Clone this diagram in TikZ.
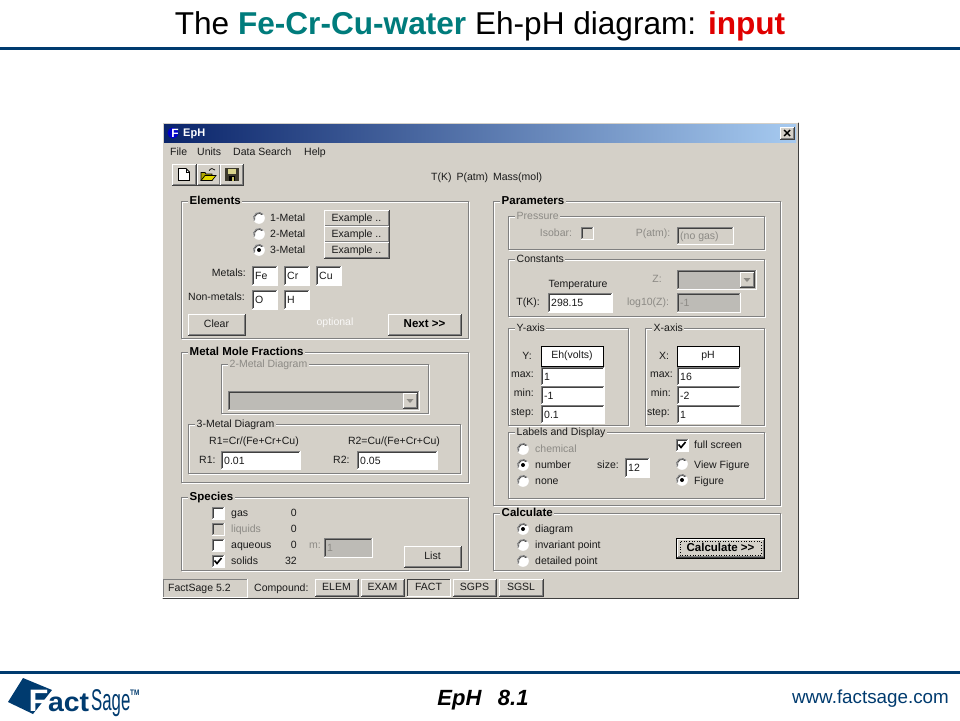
\documentclass[tikz,border=0pt]{standalone}
\usepackage{fontspec}
\setmainfont{Liberation Sans}
\definecolor{bgc}{HTML}{D4D0C8}
\definecolor{navyline}{HTML}{003B6F}
\definecolor{tealc}{HTML}{007C7C}
\definecolor{redc}{HTML}{E00000}
\definecolor{dis}{HTML}{8C8A85}
\definecolor{disf}{HTML}{BDBBB6}
\definecolor{edge}{HTML}{808080}
\definecolor{dk}{HTML}{404040}
\definecolor{uitext}{HTML}{1A1A1A}
\tikzset{
  ui/.style={font=\fontsize{10.5}{12}\selectfont,text=uitext,inner sep=0pt,text height=8pt,text depth=2pt},
  uib/.style={ui,font=\fontsize{11.5}{12}\selectfont\bfseries,text=black},
  uid/.style={ui,text=dis},
  grptitle/.style={fill=bgc,inner xsep=1.5pt,inner ysep=0pt,anchor=west},
  etch/.style={line width=1pt,draw=edge},
}
% frame: x1 y1 x2 y2 title-style title
\newcommand{\wgrp}[6]{%
  \draw[white,line width=1pt] (#1+1,#2+1) rectangle (#3+1,#4+1);
  \draw[etch] (#1,#2) rectangle (#3,#4);
  \node[#5,grptitle] at (#1+7,#2) {#6};}
% sunken field: x1 y1 x2 y2 fill
\newcommand{\wsunk}[5]{%
  \fill[#5] (#1,#2) rectangle (#3,#4);
  \draw[white,line width=1pt] (#1,#4) -- (#3,#4) -- (#3,#2);
  \draw[edge,line width=1pt] (#1,#4) -- (#1,#2) -- (#3,#2);
  \draw[dk,line width=1pt] (#1+1,#4-1) -- (#1+1,#2+1) -- (#3-1,#2+1);}
\newcommand{\wfield}[5]{\wsunk{#1}{#2}{#3}{#4}{white}\node[ui,anchor=west] at (#1+3,{(#2+#4)/2+1}) {#5};}
\newcommand{\wgfield}[5]{\wsunk{#1}{#2}{#3}{#4}{disf}\node[uid,anchor=west] at (#1+3,{(#2+#4)/2+1}) {#5};}
% raised button
\newcommand{\wrais}[4]{%
  \fill[bgc] (#1,#2) rectangle (#3,#4);
  \draw[white,line width=1pt] (#1,#4) -- (#1,#2) -- (#3,#2);
  \draw[dk,line width=1pt] (#1,#4) -- (#3,#4) -- (#3,#2);
  \draw[edge,line width=1pt] (#1+1,#4-1) -- (#3-1,#4-1) -- (#3-1,#2+1);}
\newcommand{\wbtn}[6]{\wrais{#1}{#2}{#3}{#4}\node[#5] at ({(#1+#3)/2},{(#2+#4)/2}) {#6};}
\newcommand{\wradio}[3]{%
  \fill[white] (#1,#2) circle (5.8);
  \draw[edge,line width=1pt] (#1,#2) ++(150:5.5) arc (150:320:5.5);
  \draw[dk,line width=.7pt] (#1,#2) ++(160:4.5) arc (160:310:4.5);
  \ifnum#3=1 \fill[black] (#1,#2) circle (2);\fi}
\newcommand{\wcheck}[4]{%
  \wsunk{#1-6}{#2-6}{#1+6}{#2+6}{#4}
  \ifnum#3=1 \draw[black,line width=1.6pt] (#1-3.5,#2-.5) -- (#1-1,#2+2.5) -- (#1+3.5,#2-3);\fi}
\newcommand{\wcombo}[6]{%
  \wsunk{#1}{#2}{#3}{#4}{disf}
  \wrais{#5}{#2+2}{#3-2}{#4-2}
  \fill[dis] ({(#5+#3-2)/2-3.5},{(#2+#4)/2-1.5}) -- ({(#5+#3-2)/2+3.5},{(#2+#4)/2-1.5}) -- ({(#5+#3-2)/2},{(#2+#4)/2+2.5}) -- cycle;}
\begin{document}
\begin{tikzpicture}[x=1pt,y=-1pt]
\useasboundingbox (0,0) rectangle (960,720);
\fill[white] (0,0) rectangle (960,720);
% slide header
\node[inner sep=0pt,anchor=center,font=\fontsize{31.6}{34}\selectfont] (slidetitle) at (480,26)
  {The \textcolor{tealc}{\textbf{Fe-Cr-Cu-water}} Eh-pH diagram: \textcolor{redc}{\textbf{input}}};
\fill[navyline] (0,46.7) rectangle (960,49.7);
\fill[navyline] (0,671) rectangle (960,674);
\node[inner sep=0pt,font=\fontsize{22}{24}\selectfont\bfseries\itshape] (slidefoot) at (483,700.5) {EpH\hspace{.75em}8.1};
\node[inner sep=0pt,anchor=east,font=\fontsize{18.8}{22}\selectfont,text=navyline] (slideurl) at (949,699) {www.factsage.com};
% logo
\fill[navyline] (23,678) -- (52,690) -- (33,714) -- (8,702) -- cycle;
\node[inner sep=0pt,anchor=base west,font=\fontsize{31}{31}\selectfont\bfseries,text=white,xscale=1.05] (logoF) at (28.5,711) {F};
\node[inner sep=0pt,anchor=base west,font=\fontsize{27}{28}\selectfont\bfseries,text=navyline,xscale=1.05] (logoact) at (48,711) {act};
\node[inner sep=0pt,anchor=base west,font=\fontsize{30}{30}\selectfont,text=navyline,xscale=.56] (logosage) at (91,710) {Sage};
\node[inner sep=0pt,anchor=base west,font=\fontsize{8}{8}\selectfont\bfseries,text=navyline,xscale=.8] (logotm) at (130,695) {TM};
% window
\fill[bgc] (162,122) rectangle (799,599);
\draw[white,line width=1pt] (162.5,598) -- (162.5,122.5) -- (798,122.5);
\draw[dk,line width=1.5pt] (162.5,598.5) -- (798.5,598.5) -- (798.5,122.5);
\shade[left color={rgb,255:red,10;green,36;blue,106},right color={rgb,255:red,166;green,202;blue,240}] (164,124) rectangle (796,142);
\fill[blue!80!black] (173,133) circle (5.5);
\node[inner sep=0pt,font=\fontsize{12}{12}\selectfont\bfseries,text=white] (appicon) at (175,133.5) {F};
\node[inner sep=0pt,anchor=west,font=\fontsize{11}{12}\selectfont\bfseries,text=white] (apptitle) at (183,133.5) {EpH};
\wrais{780}{127}{794}{139}
\draw[black,line width=1.4pt] (784,130) -- (790,136) (790,130) -- (784,136);
% menu
\node[ui,anchor=west] at (170,152.5) {File};
\node[ui,anchor=west] at (197,152.5) {Units};
\node[ui,anchor=west] at (233,152.5) {Data Search};
\node[ui,anchor=west] at (304,152.5) {Help};
% toolbar
\wrais{172}{164}{196}{185}
\wrais{197}{164}{220}{185}
\wrais{220}{164}{243}{185}
\draw[black,fill=white,line width=.8pt] (178.5,168.5) -- (186,168.5) -- (189.5,172) -- (189.5,180.5) -- (178.5,180.5) -- cycle;
\draw[black,line width=.6pt] (186,168.5) -- (186,172) -- (189.5,172);
\draw[black,fill=olive!70!yellow,line width=.7pt] (201,180.5) -- (201,172.5) -- (205,172.5) -- (206,174) -- (212,174) -- (212,180.5) -- cycle;
\draw[black,fill=yellow!75!olive,line width=.7pt] (201,180.5) -- (205,175.5) -- (216,175.5) -- (212,180.5) -- cycle;
\draw[black,line width=.7pt] (209,170.5) .. controls (211,168) and (213,168) .. (215,170);
\fill[black!75!olive] (225,168) rectangle (238.5,181);
\fill[olive!35!white] (228,169) rectangle (235.5,174);
\fill[black] (228.5,176) rectangle (235,181);
\fill[olive!50!white] (232,177) rectangle (234,180.5);
\node[ui,anchor=west] at (431,177) {T(K)\hspace{.2em} P(atm)\hspace{.2em} Mass(mol)};
% Elements
\wgrp{181}{201}{468}{338}{uib}{Elements}
\wradio{259}{218}{0}\wradio{259}{234}{0}\wradio{259}{250}{1}
\node[ui,anchor=west] at (270,218.5) {1-Metal};
\node[ui,anchor=west] at (270,234.5) {2-Metal};
\node[ui,anchor=west] at (270,250.5) {3-Metal};
\wbtn{324}{210}{389}{226}{ui}{Example ..}
\wbtn{324}{226}{389}{242}{ui}{Example ..}
\wbtn{324}{242}{389}{258}{ui}{Example ..}
\node[ui,anchor=east] at (246,273) {Metals:};
\node[ui,anchor=east] at (245,297) {Non-metals:};
\wfield{252}{266}{277}{285}{Fe}
\wfield{284}{266}{309}{285}{Cr}
\wfield{316}{266}{341}{285}{Cu}
\wfield{252}{290}{277}{309}{O}
\wfield{284}{290}{309}{309}{H}
\wbtn{188}{314}{245}{335}{ui}{Clear}
\node[ui,text=white!85!bgc] at (335,322) {optional};
\wbtn{388}{314}{461}{335}{uib}{Next >{}>}
% Metal Mole Fractions
\wgrp{181}{352}{468}{482}{uib}{Metal Mole Fractions}
\wgrp{221}{364}{428}{413}{uid}{2-Metal Diagram}
\wcombo{228}{391}{419}{410}{403}{}
\wgrp{188}{424}{460}{473}{ui}{3-Metal Diagram}
\node[ui] at (254,441) {R1=Cr/(Fe+Cr+Cu)};
\node[ui] at (394,441) {R2=Cu/(Fe+Cr+Cu)};
\node[ui,anchor=west] at (199,460) {R1:};
\node[ui,anchor=west] at (333,460) {R2:};
\wfield{221}{451}{300}{469}{0.01}
\wfield{357}{451}{437}{469}{0.05}
% Species
\wgrp{181}{497}{468}{570}{uib}{Species}
\wcheck{218}{513}{0}{white}\wcheck{218}{529}{0}{bgc}\wcheck{218}{545}{0}{white}\wcheck{218}{561}{1}{white}
\node[ui,anchor=west] at (231,513.5) {gas};
\node[uid,anchor=west] at (231,529.5) {liquids};
\node[ui,anchor=west] at (231,545.5) {aqueous};
\node[ui,anchor=west] at (231,561.5) {solids};
\node[ui,anchor=east] at (297,513.5) {0};
\node[ui,anchor=east] at (297,529.5) {0};
\node[ui,anchor=east] at (297,545.5) {0};
\node[ui,anchor=east] at (297,561.5) {32};
\node[uid] at (315,545.5) {m:};
\wgfield{324}{538}{372}{557}{1}
\wbtn{404}{546}{461}{567}{ui}{List}
% status bar
\draw[edge,line width=1pt] (163,597) -- (163,579) -- (247,579);
\draw[white,line width=1pt] (163,597) -- (247,597) -- (247,579);
\node[ui,anchor=west] at (168,588) {FactSage 5.2};
\node[ui,anchor=west] at (254,588) {Compound:};
\wbtn{315}{579}{358}{596}{ui}{ELEM}
\wbtn{361}{579}{404}{596}{ui}{EXAM}
\draw[dk,line width=1pt] (407,596) -- (407,579) -- (450,579);
\draw[white,line width=1pt] (407,596) -- (450,596) -- (450,579);
\node[ui] at (428.5,587.5) {FACT};
\wbtn{453}{579}{496}{596}{ui}{SGPS}
\wbtn{499}{579}{543}{596}{ui}{SGSL}
% Parameters
\wgrp{493}{201}{780}{505}{uib}{Parameters}
\wgrp{508}{216}{764}{249}{uid}{Pressure}
\node[uid] at (556,233) {Isobar:};
\wcheck{587}{233}{0}{bgc}
\node[uid] at (653,233) {P(atm):};
\wsunk{677}{227}{733}{244}{bgc}
\node[uid,anchor=west] at (680,236) {(no gas)};
\wgrp{508}{259}{764}{316}{ui}{Constants}
\node[ui] at (578,284) {Temperature};
\node[ui] at (528,302) {T(K):};
\wfield{548}{293}{612}{312}{298.15}
\node[uid] at (657,279) {Z:};
\wcombo{677}{270}{756}{289}{740}{}
\node[uid] at (648,302) {log10(Z):};
\wgfield{677}{293}{740}{312}{-1}
\wgrp{508}{328}{628}{425}{ui}{Y-axis}
\wgrp{645}{328}{764}{425}{ui}{X-axis}
\node[ui] at (527,356) {Y:};
\node[ui] at (664,356) {X:};
\draw[black,fill=white,line width=1pt] (541,346) rectangle (603,366);
\draw[black,fill=white,line width=1pt] (677,346) rectangle (739,366);
\node[ui] at (572,355) {Eh(volts)};
\node[ui] at (708,355) {pH};
\node[ui,anchor=east] at (534,374) {max:};
\node[ui,anchor=east] at (534,393) {min:};
\node[ui,anchor=east] at (534,412) {step:};
\node[ui,anchor=east] at (673,374) {max:};
\node[ui,anchor=east] at (671,393) {min:};
\node[ui,anchor=east] at (670,412) {step:};
\wfield{541}{367}{604}{385}{1}
\wfield{541}{386}{604}{404}{-1}
\wfield{541}{405}{604}{423}{0.1}
\wfield{677}{367}{740}{385}{16}
\wfield{677}{386}{740}{404}{-2}
\wfield{677}{405}{740}{423}{1}
\wgrp{508}{432}{764}{498}{ui}{Labels and Display}
\wradio{523}{449}{0}\wradio{523}{465}{1}\wradio{523}{481}{0}
\node[uid,anchor=west] at (535,449.5) {chemical};
\node[ui,anchor=west] at (535,465.5) {number};
\node[ui,anchor=west] at (535,481.5) {none};
\node[ui] at (608,465) {size:};
\wfield{625}{458}{649}{477}{12}
\wcheck{682}{445}{1}{white}
\node[ui,anchor=west] at (694,445.5) {full screen};
\wradio{682}{464}{0}\wradio{682}{480}{1}
\node[ui,anchor=west] at (694,465) {View Figure};
\node[ui,anchor=west] at (694,481) {Figure};
% Calculate
\wgrp{493}{513}{780}{570}{uib}{Calculate}
\wradio{523}{529}{1}\wradio{523}{545}{0}\wradio{523}{561}{0}
\node[ui,anchor=west] at (535,529.5) {diagram};
\node[ui,anchor=west] at (535,545.5) {invariant point};
\node[ui,anchor=west] at (535,561.5) {detailed point};
\wrais{677}{539}{764}{557}
\draw[black,line width=1pt] (676.5,538.5) rectangle (764.5,558);
\draw[black,line width=.6pt,dotted] (680,541.5) rectangle (761,555);
\node[uib] at (720.5,548) {Calculate >{}>};
\end{tikzpicture}
\end{document}
